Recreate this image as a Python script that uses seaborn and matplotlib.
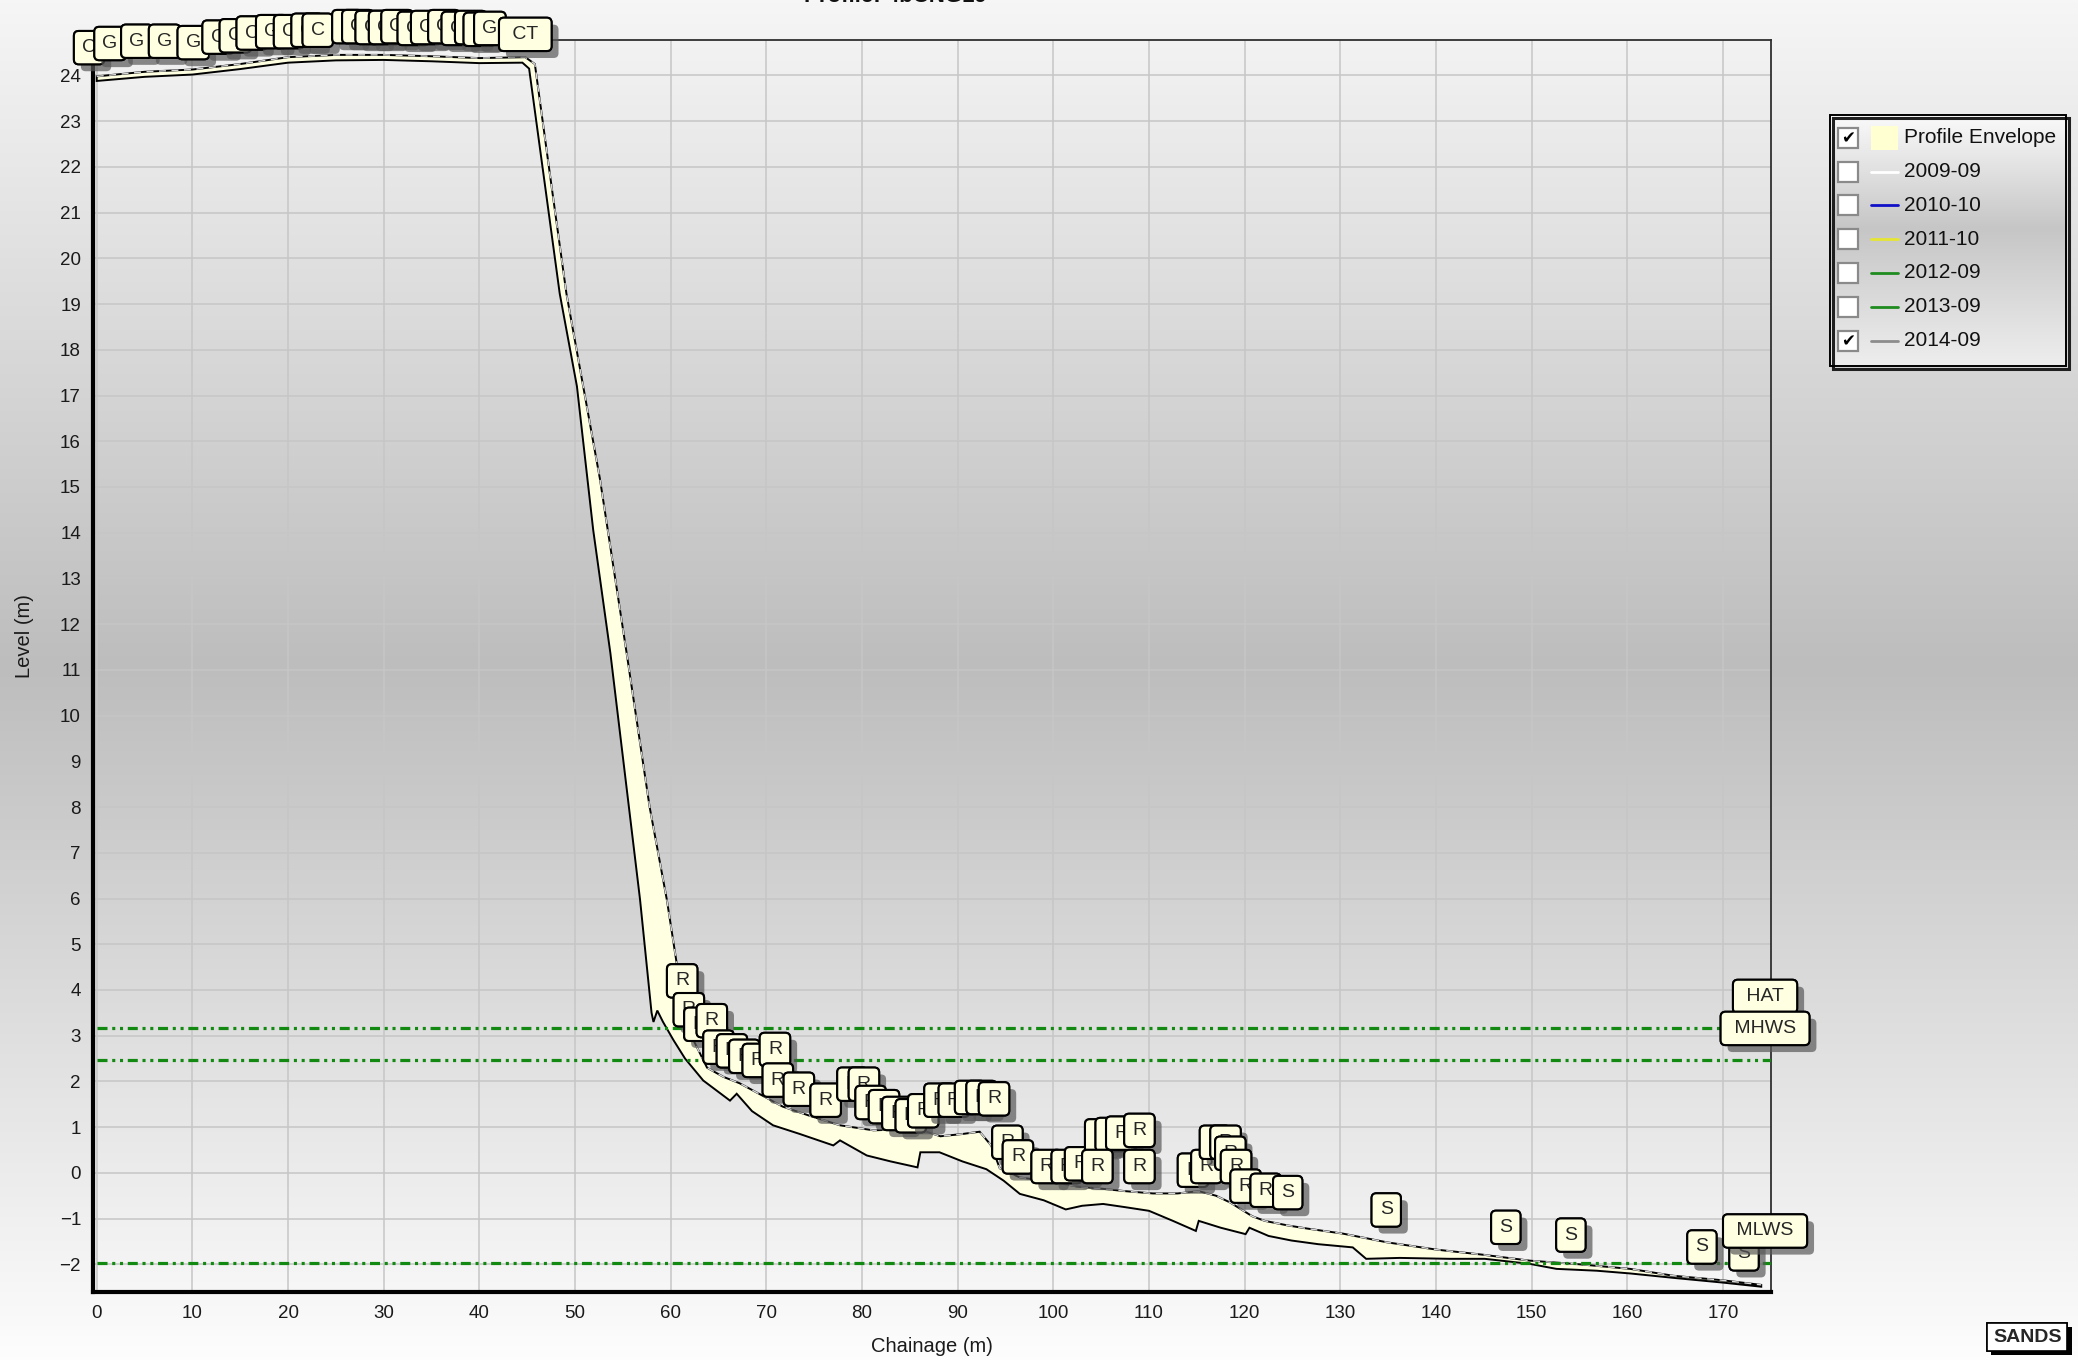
import numpy as np
import pandas as pd
import seaborn as sns
import matplotlib.pyplot as plt
import matplotlib.patheffects as pe
from matplotlib.patches import Rectangle
from matplotlib.ticker import MultipleLocator

# === 1. Datos ===
# borde superior / derecho de la envolvente
env_upper_x = [0, 5, 10, 15, 20, 25, 30, 35, 40, 44.8, 45.8, 47.4, 49.1, 52.6, 55.4, 57.8, 59.6, 60.6,
               61.0, 61.5, 62.5, 63.8, 65.5, 67.2, 69.5, 71.7, 74.5, 77.7, 81.2, 84.0, 86.0, 88.2, 90.5,
               92.3, 93.5, 94.4, 96.5, 100.0, 102.5, 105.2, 107.5, 110.4, 113.0, 115.2, 117.0, 118.5,
               120.8, 122.1, 124.5, 126.6, 130.3, 134.9, 140.1, 144.9, 149.8, 155.0, 160.3, 164.8,
               170.0, 174.0]
env_upper_y = [23.98, 24.08, 24.13, 24.25, 24.40, 24.45, 24.45, 24.42, 24.38, 24.40, 24.25, 21.8, 19.23,
               15.18, 11.36, 8.0, 5.97, 4.62, 4.0, 3.4, 2.85, 2.3, 2.1, 1.96, 1.7, 1.45, 1.25, 1.04, 0.93,
               0.95, 0.95, 0.8, 0.85, 0.9, 0.6, 0.1, -0.1, -0.2, -0.3, -0.35, -0.4, -0.45, -0.45, -0.4,
               -0.5, -0.65, -0.95, -1.05, -1.15, -1.22, -1.33, -1.52, -1.68, -1.79, -1.92, -2.0, -2.1,
               -2.25, -2.35, -2.45]
# borde inferior / izquierdo de la envolvente
env_lower_x = [0, 5, 10, 15, 20, 25, 30, 35, 40, 44.5, 45.2, 48.4, 50.2, 51.9, 53.7, 55.0, 56.8, 58.0,
               58.2, 58.6, 59.2, 60.3, 61.5, 63.4, 66.2, 66.9, 68.5, 70.7, 73.5, 77.0, 77.7, 80.5, 83.0,
               85.8, 86.1, 88.1, 90.5, 93.0, 94.8, 96.5, 99.0, 101.3, 103.0, 105.2, 107.5, 110.0, 112.5,
               114.9, 115.2, 117.5, 120.1, 120.5, 122.5, 124.9, 127.7, 131.3, 132.7, 136.2, 141.4, 145.1,
               149.8, 152.6, 156.8, 160.3, 165.0, 170.0, 174.0]
env_lower_y = [23.88, 23.97, 24.02, 24.14, 24.28, 24.33, 24.34, 24.31, 24.27, 24.28, 24.15, 19.23, 17.2,
               14.06, 11.36, 9.1, 5.97, 3.5, 3.3, 3.55, 3.3, 2.9, 2.5, 2.02, 1.58, 1.73, 1.35, 1.04, 0.85,
               0.6, 0.71, 0.38, 0.25, 0.12, 0.45, 0.45, 0.25, 0.08, -0.17, -0.46, -0.6, -0.8, -0.72,
               -0.68, -0.75, -0.83, -1.05, -1.27, -1.05, -1.2, -1.34, -1.2, -1.38, -1.48, -1.56, -1.63,
               -1.88, -1.86, -1.88, -1.88, -1.99, -2.1, -2.14, -2.2, -2.3, -2.4, -2.49]

tide_names = ["HAT", "MHWS", "MLWS"]
tide_levels = [3.16, 2.46, -1.97]

# etiquetas de los puntos (codigo de superficie)
label_x = [-0.8, 1.4, 4.2, 7.1, 10.1, 12.7, 14.5, 16.2, 18.3, 20.1, 22.0, 23.1, 26.2, 27.3, 28.7, 30.1,
           31.4, 33.1, 34.5, 36.3, 37.7, 39.1, 40.0, 41.1, 44.8,
           61.2, 61.9, 63.0, 64.3, 65.0, 66.4, 67.7, 69.1, 70.9, 71.2, 73.4, 76.2, 79.0, 80.2, 80.9,
           82.3, 83.7, 85.1, 86.4, 88.1, 89.6, 91.3, 92.5, 93.8, 95.2, 96.3, 99.3, 101.4, 102.8,
           104.9, 106.0, 107.1, 104.6, 109.0, 109.0, 114.6, 116.0, 116.9, 118.0, 118.5, 119.1, 120.1,
           122.2, 124.5, 134.8, 147.3, 154.1, 167.8, 172.2]
label_y = [23.91, 24.0, 24.05, 24.05, 24.02, 24.14, 24.17, 24.23, 24.26, 24.26, 24.29, 24.29, 24.37,
           24.37, 24.35, 24.35, 24.37, 24.33, 24.35, 24.37, 24.33, 24.35, 24.31, 24.33, 24.2,
           3.50, 2.87, 2.55, 2.63, 2.05, 1.97, 1.85, 1.76, 2.00, 1.33, 1.13, 0.89, 1.24, 1.24, 0.84,
           0.75, 0.60, 0.55, 0.66, 0.89, 0.89, 0.95, 0.95, 0.92, -0.03, -0.35, -0.56, -0.56, -0.50,
           0.11, 0.14, 0.17, -0.56, 0.23, -0.56, -0.64, -0.56, -0.03, -0.03, -0.27, -0.56, -0.99,
           -1.08, -1.13, -1.51, -1.89, -2.06, -2.32, -2.47]
label_code = ["C", "G", "G", "G", "G", "G", "G", "C", "G", "C", "G", "C", "C", "G", "G", "G", "G", "G",
              "G", "G", "G", "G", "G", "G", "CT"] + ["R"] * 43 + ["S"] * 6

legend_names = ["Profile Envelope", "2009-09", "2010-10", "2011-10", "2012-09", "2013-09", "2014-09"]
legend_colors = ["#FFFFD2", "#FFFFFF", "#1010C8", "#E6E632", "#1E8C1E", "#1E8C1E", "#8C8C8C"]
legend_checked = [True, False, False, False, False, False, True]

W, H = 2078, 1360
plt.rcParams["lines.scale_dashes"] = False
sns.set_style("white")
plt.rcParams["font.family"] = ["Liberation Sans", "DejaVu Sans"]

fig = plt.figure(figsize=(W / 100, H / 100), dpi=100)


def vgrad(stops, levels, n=400):
    v = np.interp(np.linspace(0, 1, n), stops, levels) / 255
    return np.repeat(v[:, None, None], 3, axis=2)


# === 2. Fondo degradado ===
bg = fig.add_axes([0, 0, 1, 1])
bg.imshow(vgrad([0, 0.49, 1], [246, 189, 253]), aspect="auto", extent=[0, 1, 0, 1])
bg.axis("off")

ax = fig.add_axes([92.8 / W, 1 - 1292.2 / H, (1770.6 - 92.8) / W, (1292.2 - 39.8) / H])
ax.set_facecolor("none")

# === 3. Envolvente y perfil 2014-09 ===
poly_x = env_upper_x + env_lower_x[::-1]
poly_y = env_upper_y + env_lower_y[::-1]
ax.fill(poly_x, poly_y, facecolor="#FFFFE1", edgecolor="black", lw=1.4, zorder=3)
df14 = pd.DataFrame({"chainage": env_upper_x, "level": env_upper_y})
sns.lineplot(data=df14, x="chainage", y="level", sort=False, estimator=None, ax=ax,
             color="#D8D8D8", lw=1.0, linestyle=(0, (5, 4)), zorder=4)

# === 4. Niveles de marea ===
for name, lvl in zip(tide_names, tide_levels):
    ax.hlines(lvl, 0, 175, colors="#128A12", lw=2.3, linestyles=[(0, (7.2, 3.4, 2.2, 3.4, 2.2, 3.4))],
              zorder=4)

box = dict(boxstyle="round,pad=0.42,rounding_size=0.25", fc="#FFFFE1", ec="black", lw=1.5)
shadow = [pe.withSimplePatchShadow(offset=(5, -5), shadow_rgbFace="0.35", alpha=0.7), pe.Normal()]


def callout(x, y, txt):
    if len(txt) > 1:
        txt = " " + txt + " "
    t = ax.annotate(txt, xy=(x, y), xytext=(0, 23), textcoords="offset points", ha="center",
                    va="center", fontsize=14, annotation_clip=False, bbox=box, zorder=6)
    t.get_bbox_patch().set_path_effects(shadow)


for x, y, code in zip(label_x, label_y, label_code):
    callout(x, y, code)
for name, lvl in zip(tide_names, tide_levels):
    callout(174.4, lvl, name)

# === 5. Ejes ===
ax.set_xlim(-0.41, 174.98)
ax.set_ylim(-2.61, 24.78)
ax.xaxis.set_major_locator(MultipleLocator(10))
ax.xaxis.set_minor_locator(MultipleLocator(2.5))
ax.yaxis.set_major_locator(MultipleLocator(1))
ax.yaxis.set_minor_locator(MultipleLocator(0.2))
ax.grid(True, which="major", color="#C6C6C6", lw=1.1, zorder=0)
ax.set_axisbelow(True)
ax.tick_params(which="major", length=4.5, width=1.1, color="#404040", labelsize=13.5,
               labelcolor="#1A1A1A", pad=4)
ax.tick_params(which="minor", length=2.5, width=1.0, color="#606060")
ax.tick_params(axis="x", which="major", pad=5)
for s in ["left", "bottom"]:
    ax.spines[s].set_linewidth(3.0)
    ax.spines[s].set_color("black")
for s in ["top", "right"]:
    ax.spines[s].set_linewidth(1.3)
    ax.spines[s].set_color("#303030")
ax.set_xlabel("")
ax.set_ylabel("")

fig.text((92.8 + 1770.6) / 2 / W, 1 - 1346 / H, "Chainage (m)", ha="center", va="center", fontsize=14.5,
         color="#1A1A1A")
fig.text(24 / W, 1 - 636 / H, "Level (m)", ha="center", va="center", rotation=90, fontsize=14.5,
         color="#1A1A1A")
fig.text(895 / W, 1 - 2 / H, "Profile: 4bCNG19", ha="center", va="baseline", fontsize=16,
         fontweight="bold", color="#111111")

# === 6. Leyenda con casillas ===
lg = fig.add_axes([1830 / W, 1 - 367 / H, 237 / W, 252 / H])
lg.imshow(vgrad([0, 0.45, 1], [250, 198, 238], 200), aspect="auto", extent=[0, 237, 252, 0])
lg.set_xlim(0, 237)
lg.set_ylim(252, 0)
lg.axis("off")
lg.add_patch(Rectangle((3, 3), 236, 251, fill=False, ec="#202020", lw=2.2, clip_on=False, zorder=1))
lg.add_patch(Rectangle((0, 0), 236, 251, fill=False, ec="black", lw=1.4, clip_on=False, zorder=2))
for i, (name, col, chk) in enumerate(zip(legend_names, legend_colors, legend_checked)):
    yc = 22.8 + 33.8 * i
    lg.add_patch(Rectangle((8, yc - 10), 20, 20, fc="white", ec="#8A8A8A", lw=1.6))
    if chk:
        lg.text(18, yc + 1, "✔", ha="center", va="center", fontsize=12, color="black",
                family=["DejaVu Sans"])
    if i == 0:
        lg.add_patch(Rectangle((41, yc - 12), 27, 24, fc=col, ec="none"))
    else:
        lg.plot([41, 68], [yc, yc], color=col, lw=2.0)
    lg.text(74, yc, name, ha="left", va="center", fontsize=15, color="#111111")

# logo
logo = fig.text(1993 / W, 1 - 1337 / H, "SANDS", ha="left", va="center", fontsize=14, fontweight="bold",
                bbox=dict(boxstyle="square,pad=0.3", fc="white", ec="black", lw=1.2))
logo.get_bbox_patch().set_path_effects([pe.withSimplePatchShadow(offset=(3, -3), shadow_rgbFace="black",
                                                                 alpha=1), pe.Normal()])

plt.savefig("out.png", dpi=100)
plt.close()
